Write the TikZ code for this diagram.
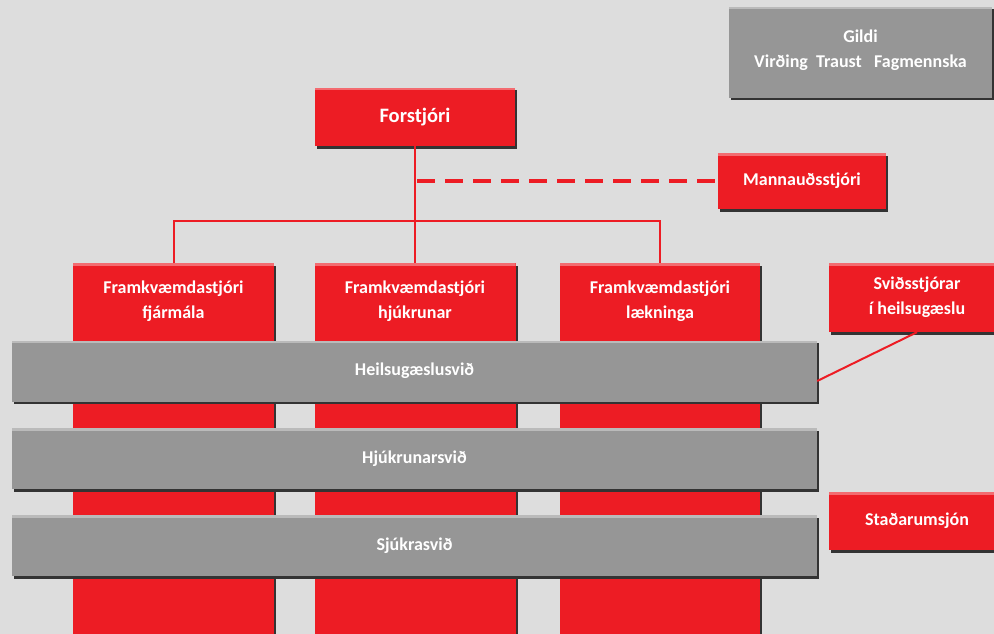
\documentclass[tikz,border=0pt]{standalone}
\usepackage{fontspec}
\setmainfont{Carlito}
\usetikzlibrary{shadows}
\definecolor{skred}{RGB}{237,28,36}
\definecolor{skgray}{RGB}{150,150,150}
\definecolor{skbg}{RGB}{221,221,221}
\newcommand{\colhead}[2]{\parbox[t][368pt][t]{190pt}{\centering #1\\#2}}
\tikzset{
  box/.style={fill=skred, text=white, font=\bfseries\fontsize{18}{25}\selectfont, align=center, inner sep=0pt,
    drop shadow={shadow xshift=2pt, shadow yshift=-2.5pt, fill=black!80, opacity=1},
    path picture={\fill[white, opacity=.35] (path picture bounding box.north west) rectangle ([yshift=-2.5pt]path picture bounding box.north east);}},
  band/.style={box, fill=skgray},
  col/.style={box, anchor=north, minimum width=201pt, inner ysep=18pt},
  link/.style={draw=skred, line width=2pt},
}

\begin{document}
\begin{tikzpicture}[x=1pt, y=1pt]
\useasboundingbox (0,0) rectangle (994,-634);
\fill[skbg] (0,0) rectangle (994,-634);
\node[band, minimum width=263pt, minimum height=91pt, text depth=8pt](gildi) at (860.5, -52.5) {Gildi\\Virðing\ \ Traust\ \ \ Fagmennska};
\node[box, minimum width=200pt, minimum height=58pt, font=\bfseries\fontsize{20.5}{25}\selectfont](forst) at (415, -117) {Forstjóri};
\node[box, minimum width=168pt, minimum height=56pt](mann) at (802, -181) {Mannauðsstjóri};
\node[col](fjar) at (173.5, -263) {\colhead{Framkvæmdastjóri}{fjármála}};
\node[col](hjuk) at (415, -263) {\colhead{Framkvæmdastjóri}{hjúkrunar}};
\node[col, minimum width=200pt](laek) at (660, -263) {\colhead{Framkvæmdastjóri}{lækninga}};
\node[band, minimum width=805pt, minimum height=61pt](heil) at (414.5, -371) {Heilsugæslusvið};
\node[band, minimum width=805pt, minimum height=61pt](hjsv) at (414.5, -458.5) {Hjúkrunarsvið};
\node[band, minimum width=805pt, minimum height=61pt](sjsv) at (414.5, -545.5) {Sjúkrasvið};
\node[box, minimum width=176pt, minimum height=69pt](svid) at (917, -297.5) {Sviðsstjórar\\í heilsugæslu};
\node[box, minimum width=176pt, minimum height=58pt](stad) at (917, -521) {Staðarumsjón};
\coordinate(bus) at (415, -221);
\draw[link] (forst.south) -- (hjuk.north);
\draw[link] (fjar.north) |- (bus) -| (laek.north);
\draw[link, line width=3.5pt, dash pattern=on 18pt off 10pt] ([xshift=2pt]forst.south |- mann.west) -- (mann.west);
\draw[link] (svid.south) -- ([yshift=-10pt]heil.east);
\end{tikzpicture}
\end{document}
